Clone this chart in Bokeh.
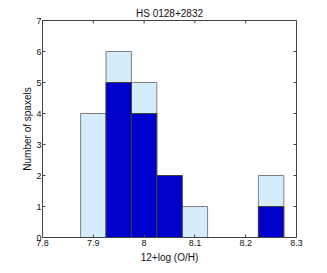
from bokeh.plotting import figure
from bokeh.models import FixedTicker, Range1d
from bokeh.embed import file_html
from bokeh.resources import INLINE

bin_centers = [7.90, 7.95, 8.00, 8.05, 8.10, 8.25]
total_counts = [4, 6, 5, 2, 1, 2]
dark_centers = [7.95, 8.00, 8.05, 8.25]
dark_counts = [5, 4, 2, 1]
bin_width = 0.05
x_ticks = [7.8, 7.9, 8.0, 8.1, 8.2, 8.3]
x_tick_labels = {7.8: "7.8", 7.9: "7.9", 8.0: "8", 8.1: "8.1", 8.2: "8.2", 8.3: "8.3"}
y_ticks = [0, 1, 2, 3, 4, 5, 6, 7]

FONT = "Liberation Sans"
X0, X1, Y0, Y1 = 7.8, 8.3, 0, 7
FRAME_W, FRAME_H, TICK = 254, 222, 3

p = figure(width=319, height=265, output_backend="svg", toolbar_location=None,
           x_range=Range1d(X0, X1), y_range=Range1d(Y0, Y1),
           min_border_left=42, min_border_right=23, min_border_top=20, min_border_bottom=23,
           title="HS 0128+2832")
p.title.align = "center"
p.title.text_font = FONT
p.title.text_font_size = "10px"
p.title.text_font_style = "normal"
p.title.text_color = "#111111"
p.title.standoff = 4

p.quad(left=[c - bin_width / 2 for c in bin_centers], right=[c + bin_width / 2 for c in bin_centers],
       bottom=0, top=total_counts, fill_color="#d4ecfc", line_color="#7f7f7f", line_width=1)
p.quad(left=[c - bin_width / 2 for c in dark_centers], right=[c + bin_width / 2 for c in dark_centers],
       bottom=0, top=dark_counts, fill_color="#0000cc", line_color="#3f3f3f", line_width=1)

# ticks on the top and right edges of the box
dy = TICK * (Y1 - Y0) / FRAME_H
dx = TICK * (X1 - X0) / FRAME_W
p.segment(x0=x_ticks, x1=x_ticks, y0=[Y1] * len(x_ticks), y1=[Y1 - dy] * len(x_ticks),
          line_color="#444444", line_width=1)
p.segment(x0=[X1] * len(y_ticks), x1=[X1 - dx] * len(y_ticks), y0=y_ticks, y1=y_ticks,
          line_color="#444444", line_width=1)

p.grid.visible = False
p.outline_line_color = "#444444"
p.background_fill_color = "white"

for ax in [p.xaxis[0], p.yaxis[0]]:
    ax.major_tick_in = TICK
    ax.major_tick_out = 0
    ax.minor_tick_in = 0
    ax.minor_tick_out = 0
    ax.axis_line_color = "#444444"
    ax.major_tick_line_color = "#444444"
    ax.major_label_text_font = FONT
    ax.major_label_text_font_size = "9px"
    ax.major_label_text_color = "#111111"
    ax.axis_label_text_font = FONT
    ax.axis_label_text_font_size = "10px"
    ax.axis_label_text_font_style = "normal"
    ax.axis_label_text_color = "#111111"
    ax.major_label_standoff = 2
    ax.axis_label_standoff = 2

p.yaxis[0].major_label_standoff = 1
p.yaxis[0].axis_label_standoff = 0
p.xaxis[0].axis_label_standoff = 3

p.xaxis[0].ticker = FixedTicker(ticks=x_ticks)
p.xaxis[0].major_label_overrides = x_tick_labels
p.xaxis[0].axis_label = "12+log (O/H)"
p.yaxis[0].ticker = FixedTicker(ticks=y_ticks)
p.yaxis[0].axis_label = "Number of spaxels"

open("out.html", "w").write(file_html(p, INLINE))
